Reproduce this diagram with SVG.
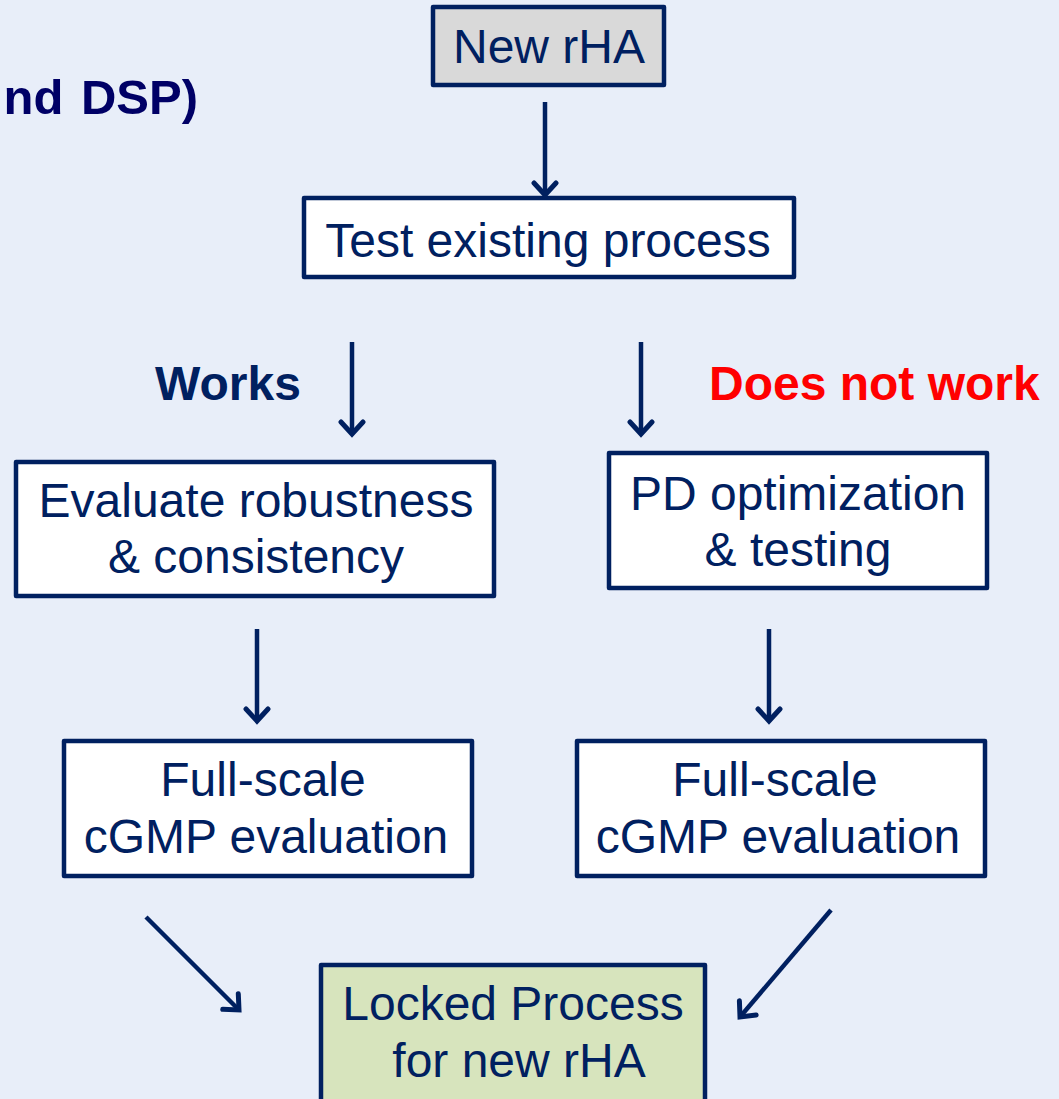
<svg xmlns="http://www.w3.org/2000/svg" width="1059" height="1099" viewBox="0 0 1059 1099">
<style>
.box{fill:#FFFFFF;stroke:#002060;stroke-width:4.5;stroke-linejoin:round}
.t{font-family:"Liberation Sans",Arial,sans-serif;font-size:48px;fill:#002060;text-anchor:middle}
.lbl{font-family:"Liberation Sans",Arial,sans-serif;font-size:48px;font-weight:bold}
.c{stroke:#002060;stroke-width:4.5;fill:none;marker-end:url(#ah)}
</style>
<defs>
<marker id="ah" markerUnits="userSpaceOnUse" markerWidth="30" markerHeight="30" viewBox="-15 -15 30 30" refX="0" refY="0" orient="auto">
<path d="M-12,-11 L0,0 L-12,11" fill="none" stroke="#002060" stroke-width="5" stroke-linecap="round" stroke-linejoin="miter"/>
</marker>
</defs>
<rect x="0" y="0" width="1059" height="1099" fill="#E8EEF9"/>
<text x="198" y="114" font-family="Liberation Sans,Arial,sans-serif" font-size="49" font-weight="bold" fill="#000066" text-anchor="end" word-spacing="4">nd DSP)</text>
<g id="connectors">
<line class="c" x1="545" y1="102" x2="545" y2="195"/>
<line class="c" x1="352" y1="342" x2="352" y2="434"/>
<line class="c" x1="641" y1="342" x2="641" y2="434"/>
<line class="c" x1="257" y1="629" x2="257" y2="721"/>
<line class="c" x1="769" y1="629" x2="769" y2="721"/>
<line class="c" x1="146" y1="917" x2="239" y2="1010"/>
<line class="c" x1="831" y1="910" x2="740" y2="1017"/>
</g>
<g id="label-works"><text class="lbl" x="155" y="400" fill="#002060">Works</text></g>
<g id="label-doesnotwork"><text class="lbl" x="709" y="400" fill="#FF0000">Does not work</text></g>
<g id="node-newrha">
<rect class="box" x="433" y="7" width="231" height="78" style="fill:#D9D9D9"/>
<text class="t" x="549" y="63">New rHA</text>
</g>
<g id="node-test">
<rect class="box" x="304" y="198" width="490" height="79"/>
<text class="t" x="548" y="257">Test existing process</text>
</g>
<g id="node-evaluate">
<rect class="box" x="16" y="462" width="478" height="134"/>
<text class="t" x="256" y="517">Evaluate robustness</text>
<text class="t" x="256" y="573">&amp; consistency</text>
</g>
<g id="node-pd">
<rect class="box" x="609" y="453" width="378" height="135"/>
<text class="t" x="798" y="510">PD optimization</text>
<text class="t" x="798" y="566">&amp; testing</text>
</g>
<g id="node-full-left">
<rect class="box" x="64" y="741" width="408" height="135"/>
<text class="t" x="263" y="796">Full-scale</text>
<text class="t" x="266" y="853">cGMP evaluation</text>
</g>
<g id="node-full-right">
<rect class="box" x="577" y="741" width="408" height="135"/>
<text class="t" x="775" y="796">Full-scale</text>
<text class="t" x="778" y="853">cGMP evaluation</text>
</g>
<g id="node-locked">
<rect class="box" x="321" y="965" width="384" height="150" style="fill:#D7E4BD"/>
<text class="t" x="513" y="1020">Locked Process</text>
<text class="t" x="519" y="1077">for new rHA</text>
</g>
</svg>
